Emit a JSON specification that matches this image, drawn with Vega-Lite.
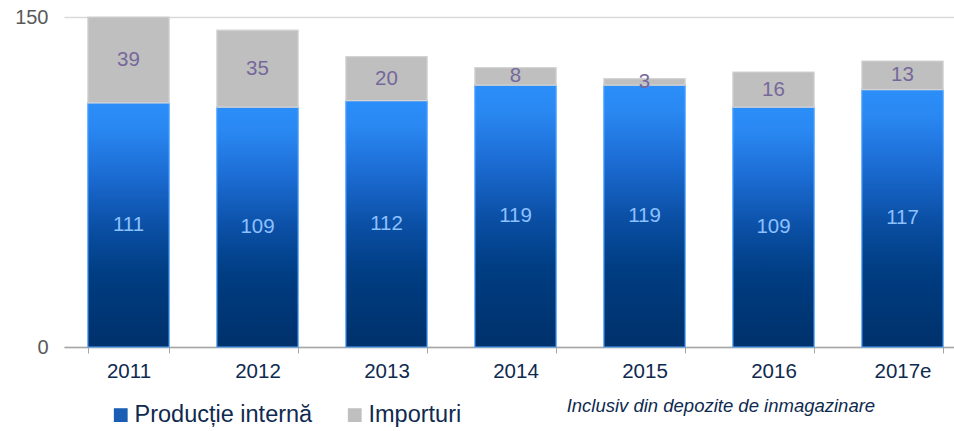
{
  "$schema": "https://vega.github.io/schema/vega-lite/v6.json",
  "autosize": {"type": "none"},
  "width": 890,
  "height": 330,
  "padding": {"left": 64, "top": 17, "right": 0, "bottom": 84},
  "background": "white",
  "config": {
    "font": "Liberation Sans",
    "view": {"stroke": null}
  },
  "title": {
    "text": "Inclusiv din depozite de inmagazinare",
    "orient": "bottom",
    "anchor": "start",
    "dx": 552,
    "offset": -30,
    "fontSize": 18.5,
    "fontStyle": "italic",
    "fontWeight": "normal",
    "color": "#0f2a4f",
    "font": "Liberation Sans"
  },
  "data": {
    "values": [
      {"year": "2011", "series": "Producție internă", "value": 111},
      {"year": "2011", "series": "Importuri", "value": 39},
      {"year": "2012", "series": "Producție internă", "value": 109},
      {"year": "2012", "series": "Importuri", "value": 35},
      {"year": "2013", "series": "Producție internă", "value": 112},
      {"year": "2013", "series": "Importuri", "value": 20},
      {"year": "2014", "series": "Producție internă", "value": 119},
      {"year": "2014", "series": "Importuri", "value": 8},
      {"year": "2015", "series": "Producție internă", "value": 119},
      {"year": "2015", "series": "Importuri", "value": 3},
      {"year": "2016", "series": "Producție internă", "value": 109},
      {"year": "2016", "series": "Importuri", "value": 16},
      {"year": "2017e", "series": "Producție internă", "value": 117},
      {"year": "2017e", "series": "Importuri", "value": 13}
    ]
  },
  "encoding": {
    "x": {
      "field": "year",
      "type": "ordinal",
      "scale": {"range": [0, 903], "paddingInner": 0.37, "paddingOuter": 0.185},
      "axis": {
        "title": null,
        "labelAngle": 0,
        "labelFontSize": 20.5,
        "labelColor": "#0f2a4f",
        "labelPadding": 8,
        "tickBand": "extent",
        "tickSize": 6,
        "tickColor": "#a6a6a6",
        "domainColor": "#a6a6a6",
        "domainWidth": 1.5
      }
    },
    "y": {
      "field": "value",
      "type": "quantitative",
      "stack": "zero",
      "scale": {"domain": [0, 150], "nice": false},
      "axis": {
        "title": null,
        "values": [0, 150],
        "domain": false,
        "ticks": false,
        "labelFontSize": 20,
        "labelColor": "#595959",
        "labelPadding": 16,
        "gridColor": "#d9d9d9",
        "gridWidth": 1.5
      }
    },
    "order": {"field": "series", "sort": "descending"}
  },
  "layer": [
    {
      "mark": {"type": "bar", "strokeWidth": 1.2},
      "encoding": {
        "fill": {
          "condition": {
            "test": "datum.series === 'Producție internă'",
            "value": {
              "gradient": "linear",
              "x1": 0, "y1": 0, "x2": 0, "y2": 1,
              "stops": [
                {"offset": 0, "color": "#2b8ef9"},
                {"offset": 0.1, "color": "#2a88f2"},
                {"offset": 0.3, "color": "#1b6bd2"},
                {"offset": 0.5, "color": "#0b50a6"},
                {"offset": 0.7, "color": "#003d82"},
                {"offset": 1, "color": "#00316b"}
              ]
            }
          },
          "field": "series",
          "type": "nominal",
          "scale": {"domain": ["Producție internă", "Importuri"], "range": ["#1a5db5", "#bfbfbf"]},
          "legend": {
            "title": null,
            "orient": "none",
            "direction": "horizontal",
            "legendX": 45,
            "legendY": 386,
            "symbolType": "square",
            "symbolSize": 190,
            "symbolStrokeWidth": 0,
            "labelFontSize": 23.5,
            "labelColor": "#0f2a4f",
            "labelOffset": 2,
            "labelLimit": 400,
            "columnPadding": 30
          }
        },
        "stroke": {
          "condition": {"test": "datum.series === 'Producție internă'", "value": "#4ea3ff"},
          "value": "#d3d3d3"
        }
      }
    },
    {
      "mark": {"type": "text", "fontSize": 20.5, "baseline": "middle"},
      "encoding": {
        "y": {"field": "value", "type": "quantitative", "stack": "zero", "bandPosition": 0.5},
        "text": {"field": "value", "type": "quantitative"},
        "color": {
          "condition": {"test": "datum.series === 'Producție internă'", "value": "#8cc0ff"},
          "value": "#76689b"
        }
      }
    }
  ]
}
